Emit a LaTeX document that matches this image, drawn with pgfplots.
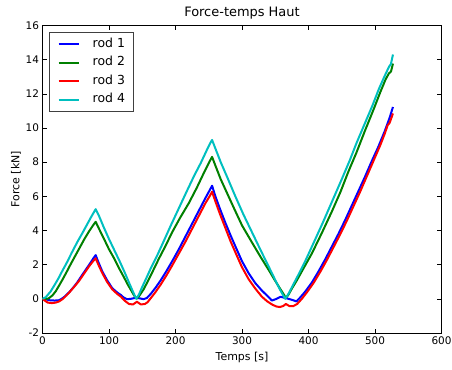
\documentclass[border=0pt]{standalone}
\usepackage{pgfplots}
\pgfplotsset{compat=1.18}
\usepackage{fontspec}
\setmainfont{DejaVu Sans}
\definecolor{mb}{rgb}{0,0,1}
\definecolor{mg}{rgb}{0,0.5,0}
\definecolor{mr}{rgb}{1,0,0}
\definecolor{mc}{rgb}{0,0.75,0.75}
\begin{document}
\begin{tikzpicture}
\begin{axis}[
  at={(0,0)}, anchor=south west,
  scale only axis, width=399bp, height=307.5bp,
  xmin=0, xmax=600, ymin=-2, ymax=16,
  xtick={0,100,...,600}, ytick={-2,0,...,16},
  tick align=inside, major tick length=4.5bp,
  tick style={black, line width=0.6bp},
  axis line style={black, line width=0.8bp},
  tick pos=both,
  /pgf/number format/assume math mode=true,
  ticklabel style={font=\fontsize{10.5}{12}\selectfont},
  title={Force-temps Haut},
  title style={font=\fontsize{13}{15}\selectfont, yshift=-3bp},
  xlabel={Temps [s]}, ylabel={Force [kN]},
  label style={font=\fontsize{11}{13}\selectfont},
  xlabel style={yshift=-1bp},
  ylabel style={yshift=-2bp},
  legend cell align=left,
  legend image code/.code={\draw[#1] (0bp,0bp) -- (20bp,0bp);},
  legend style={at={(0.017,0.980)}, anchor=north west,
    draw=black!75, line width=0.8bp,
    font=\fontsize{12.5}{12}\selectfont,
    nodes={inner sep=0pt, text height=9bp, text depth=3bp},
    row sep=6.5bp, column sep=13bp, inner xsep=8bp, inner ysep=6bp},
  every axis plot/.append style={line width=2bp, line join=round},
]
\addplot[mb] coordinates {
(0,0) (5,-0.03) (10,-0.08) (18,-0.1) (24,-0.09) (28,-0.02) (33,0.12) (40,0.38) (46,0.65) (52,0.95)
(58,1.3) (65,1.7) (72,2.1) (77,2.4) (80,2.56) (84,2.15) (90,1.6) (97,1.1) (105,0.62) (112,0.38)
(118,0.22) (122,0.08) (127,-0.02) (133,0.0) (140,0.06) (146,0.03) (152,-0.02) (157,0.05)
(163,0.3) (170,0.65) (178,1.1) (186,1.6) (195,2.2) (205,2.9) (215,3.65) (225,4.4) (235,5.15)
(245,5.9) (252,6.4) (255,6.62) (260,6.0) (267,5.25) (275,4.45) (283,3.7) (292,2.9) (300,2.2)
(310,1.5) (320,0.92) (330,0.48) (338,0.18) (345,-0.1) (352,0.0) (358,0.12) (364,0.06) (370,0.0)
(376,-0.07) (382,-0.15) (388,0.1) (395,0.42) (405,0.95) (415,1.6) (425,2.3) (435,3.05) (445,3.8)
(455,4.6) (465,5.45) (475,6.3) (485,7.15) (495,8.05) (505,8.9) (515,9.85) (522,10.6) (527,11.23)
};
\addlegendentry{rod 1}
\addplot[mg] coordinates {
(0,0) (5,0.0) (9,0.02) (15,0.2) (20,0.45) (25,0.78) (30,1.12) (36,1.55) (42,2.0) (49,2.5)
(56,3.0) (63,3.5) (70,3.95) (76,4.3) (80,4.51) (85,4.1) (92,3.55) (100,2.9) (108,2.35) (115,1.8)
(122,1.3) (128,0.85) (134,0.45) (138,0.18) (142,0.02) (146,0.2) (152,0.55) (158,1.0) (165,1.55)
(175,2.35) (185,3.1) (195,3.9) (207,4.75) (220,5.6) (232,6.5) (243,7.4) (250,7.95) (255,8.31)
(260,7.8) (268,7.0) (278,6.15) (288,5.3) (300,4.3) (315,3.3) (328,2.45) (340,1.7) (350,1.05)
(358,0.55) (363,0.25) (366,0.05) (370,0.25) (375,0.6) (382,1.05) (392,1.75) (405,2.65) (420,3.85)
(435,5.1) (448,6.25) (460,7.45) (472,8.55) (485,9.85) (497,11.0) (508,12.1) (516,12.85)
(521,13.2) (524,13.3) (527,13.77)
};
\addlegendentry{rod 2}
\addplot[mr] coordinates {
(0,0) (4,-0.12) (8,-0.22) (14,-0.25) (20,-0.22) (25,-0.15) (30,-0.02) (36,0.2) (42,0.45) (48,0.72)
(55,1.05) (62,1.45) (70,1.9) (76,2.2) (80,2.37) (84,2.0) (90,1.5) (97,1.0) (105,0.55) (112,0.3)
(118,0.12) (124,-0.12) (130,-0.3) (136,-0.33) (142,-0.17) (148,-0.33) (154,-0.3) (158,-0.2)
(163,0.05) (170,0.4) (178,0.85) (186,1.35) (195,1.95) (205,2.65) (215,3.35) (225,4.1) (235,4.85)
(245,5.6) (252,6.05) (255,6.27) (260,5.7) (267,4.95) (275,4.15) (283,3.35) (292,2.55) (300,1.85)
(310,1.15) (320,0.6) (330,0.12) (338,-0.15) (346,-0.35) (352,-0.45) (357,-0.48) (362,-0.42)
(366,-0.3) (371,-0.42) (377,-0.43) (383,-0.3) (390,0.0) (398,0.4) (408,0.95) (418,1.6) (428,2.3)
(438,3.05) (448,3.8) (458,4.6) (468,5.45) (478,6.3) (488,7.2) (498,8.1) (508,9.0) (515,9.7)
(519,10.16) (522,10.3) (527,10.85)
};
\addlegendentry{rod 3}
\addplot[mc] coordinates {
(0,0) (5,0.1) (12,0.42) (18,0.8) (24,1.2) (30,1.65) (37,2.15) (44,2.7) (52,3.3) (60,3.85)
(67,4.35) (74,4.85) (80,5.25) (85,4.85) (92,4.2) (100,3.5) (108,2.85) (116,2.2) (123,1.6)
(129,1.05) (134,0.6) (138,0.25) (141,0.0) (145,0.25) (150,0.7) (156,1.2) (163,1.8) (172,2.5)
(182,3.35) (193,4.3) (205,5.3) (217,6.3) (228,7.2) (238,7.95) (247,8.7) (252,9.1) (255,9.3)
(260,8.8) (268,8.0) (278,7.1) (290,6.0) (302,4.95) (315,3.9) (328,2.85) (340,1.9) (350,1.1)
(357,0.55) (362,0.2) (365,0.0) (370,0.3) (376,0.75) (384,1.35) (395,2.2) (408,3.3) (422,4.5)
(436,5.75) (450,7.0) (462,8.1) (472,9.1) (484,10.2) (496,11.3) (506,12.3) (514,13.0)
(521,13.58) (524,13.75) (527,14.3)
};
\addlegendentry{rod 4}
\end{axis}
\pgfresetboundingbox
\useasboundingbox (-42.5bp,-37bp) rectangle (409.5bp,333bp);
\end{tikzpicture}
\end{document}
